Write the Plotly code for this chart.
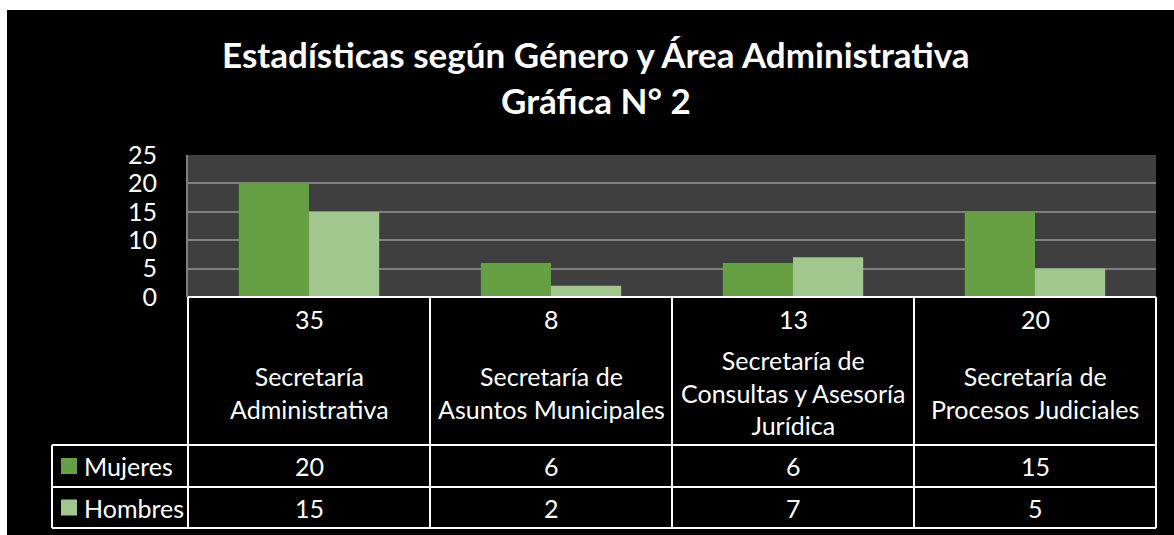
import plotly.graph_objects as go

# ---------------- data ----------------
categories = [
    "Secretaría<br>Administrativa",
    "Secretaría de<br>Asuntos Municipales",
    "Secretaría de<br>Consultas y Asesoría<br>Jurídica",
    "Secretaría de<br>Procesos Judiciales",
]
totals = [35, 8, 13, 20]
mujeres = [20, 6, 6, 15]
hombres = [15, 2, 7, 5]
series_names = ["Mujeres", "Hombres"]
y_ticks = [0, 5, 10, 15, 20, 25]
title_line1 = "Estadísticas según Género y Área Administrativa"
title_line2 = "Gráfica N° 2"

# ---------------- style ----------------
W, H = 1174, 535
L, R, T, B = 188, 1156, 155, 297
FONT = "Lato"
C_MUJ = "#67a044"
C_HOM = "#a1c78f"
WHITE = "#ffffff"

def px(x):
    return (x - L) / (R - L)

def py(y):
    return (B - y) / (B - T)

x_idx = list(range(len(categories)))

fig = go.Figure()
fig.add_trace(go.Bar(x=x_idx, y=mujeres, name=series_names[0], marker_color=C_MUJ,
                     marker_line_width=0, showlegend=False))
fig.add_trace(go.Bar(x=x_idx, y=hombres, name=series_names[1], marker_color=C_HOM,
                     marker_line_width=0, showlegend=False))

shapes = []
# white outer frame strips (top & left)
shapes.append(dict(type="rect", xref="paper", yref="paper", x0=px(0), x1=px(W), y0=py(0), y1=py(10),
                   fillcolor=WHITE, line_width=0, layer="above"))
shapes.append(dict(type="rect", xref="paper", yref="paper", x0=px(0), x1=px(7), y0=py(H), y1=py(0),
                   fillcolor=WHITE, line_width=0, layer="above"))

# table grid
col_edges = [L + i * (R - L) / len(categories) for i in range(len(categories) + 1)]
row_header_bottom = 445
row_muj_bottom = 487
row_hom_bottom = 528
legend_left = 52
lw = 2
shapes.append(dict(type="line", xref="paper", yref="paper", x0=px(L), x1=px(R), y0=py(B), y1=py(B),
                   line=dict(color=WHITE, width=lw), layer="above"))
for yy in [row_header_bottom, row_muj_bottom, row_hom_bottom]:
    shapes.append(dict(type="line", xref="paper", yref="paper", x0=px(legend_left), x1=px(R),
                       y0=py(yy), y1=py(yy), line=dict(color=WHITE, width=lw), layer="above"))
for xx in col_edges:
    shapes.append(dict(type="line", xref="paper", yref="paper", x0=px(xx), x1=px(xx),
                       y0=py(B), y1=py(row_hom_bottom), line=dict(color=WHITE, width=lw), layer="above"))
shapes.append(dict(type="line", xref="paper", yref="paper", x0=px(legend_left), x1=px(legend_left),
                   y0=py(row_header_bottom), y1=py(row_hom_bottom), line=dict(color=WHITE, width=lw), layer="above"))

# legend keys
row_centers = [(row_header_bottom + row_muj_bottom) / 2, (row_muj_bottom + row_hom_bottom) / 2]
for color, yc in zip([C_MUJ, C_HOM], row_centers):
    shapes.append(dict(type="rect", xref="paper", yref="paper", x0=px(61), x1=px(77),
                       y0=py(yc + 8), y1=py(yc - 8), fillcolor=color, line_width=0, layer="above"))

annotations = []
title_font = dict(family=FONT, size=35, color=WHITE)
annotations.append(dict(text="<b>%s</b>" % title_line1, xref="paper", yref="paper", x=px(596), y=py(54),
                        xanchor="center", yanchor="middle", showarrow=False, font=title_font))
annotations.append(dict(text="<b>%s</b>" % title_line2, xref="paper", yref="paper", x=px(596), y=py(100),
                        xanchor="center", yanchor="middle", showarrow=False, font=title_font))

col_centers = [(col_edges[i] + col_edges[i + 1]) / 2 for i in range(len(categories))]
cell_font = dict(family=FONT, size=25, color=WHITE)
for i, xc in enumerate(col_centers):
    annotations.append(dict(text=str(totals[i]), xref="paper", yref="paper", x=px(xc), y=py(319),
                            xanchor="center", yanchor="middle", showarrow=False, font=cell_font))
    annotations.append(dict(text=categories[i], xref="paper", yref="paper", x=px(xc), y=py(392),
                            xanchor="center", yanchor="middle", showarrow=False, font=cell_font))
    annotations.append(dict(text=str(mujeres[i]), xref="paper", yref="paper", x=px(xc), y=py(row_centers[0]),
                            xanchor="center", yanchor="middle", showarrow=False, font=cell_font))
    annotations.append(dict(text=str(hombres[i]), xref="paper", yref="paper", x=px(xc), y=py(row_centers[1]),
                            xanchor="center", yanchor="middle", showarrow=False, font=cell_font))
for name, yc in zip(series_names, row_centers):
    annotations.append(dict(text=name, xref="paper", yref="paper", x=px(82), y=py(yc),
                            xanchor="left", yanchor="middle", showarrow=False, font=cell_font))

fig.update_layout(
    width=W, height=H,
    margin=dict(l=L, r=W - R, t=T, b=H - B, pad=0),
    paper_bgcolor="black",
    plot_bgcolor="#3f3f3f",
    barmode="group",
    bargap=0.42,
    bargroupgap=0,
    shapes=shapes,
    annotations=annotations,
    font=dict(family=FONT, color=WHITE),
)
fig.update_xaxes(range=[-0.5, len(categories) - 0.5], showticklabels=False, showgrid=False,
                 zeroline=False, showline=False, fixedrange=True)
fig.update_yaxes(range=[0, 25], tickvals=y_ticks, showgrid=True, gridcolor="#7f7f7f", gridwidth=2,
                 zeroline=False, showline=True, linecolor="#7f7f7f", linewidth=2,
                 ticks="", ticklabelstandoff=24, tickfont=dict(family=FONT, size=25, color=WHITE),
                 fixedrange=True)

fig.write_html("out.html", config={"displayModeBar": False},
               post_script="document.body.style.margin='0';document.body.style.overflow='hidden';")
